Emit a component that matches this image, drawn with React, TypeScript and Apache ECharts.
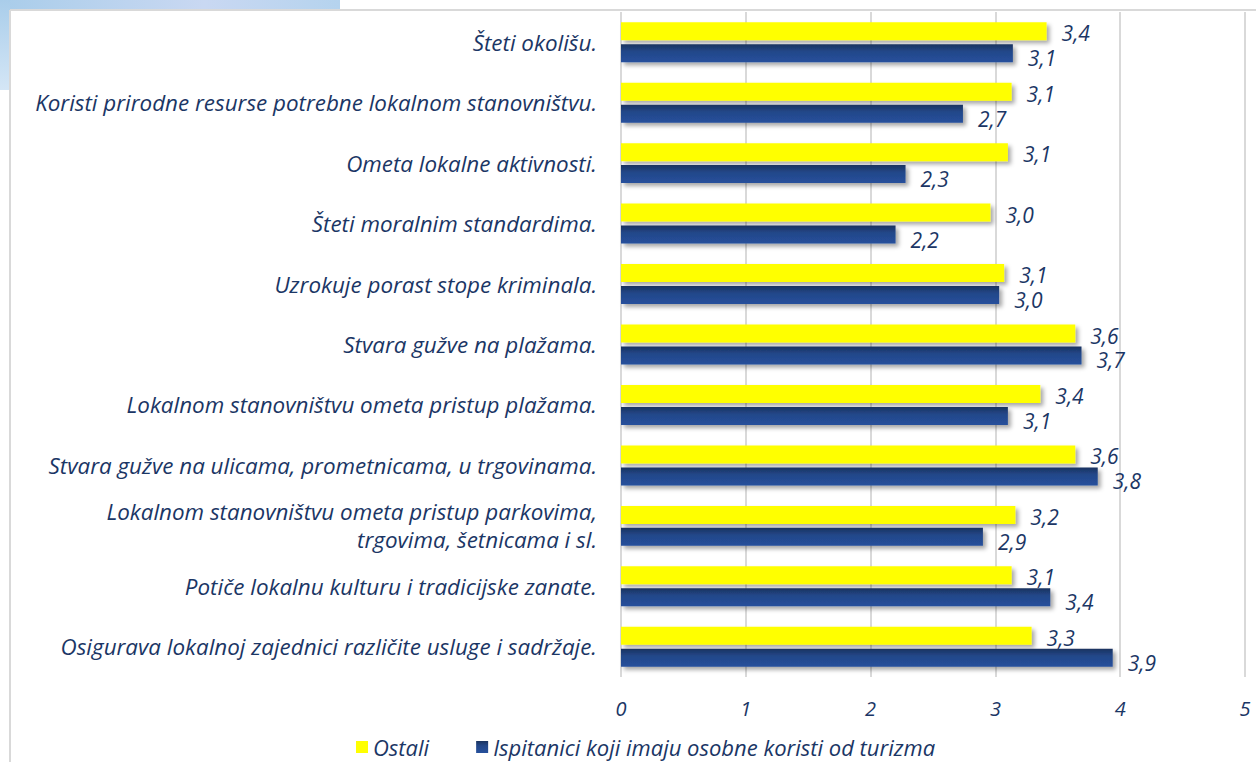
import React, { useEffect, useRef } from "react";
import * as echarts from "echarts";

const categories = [
  "Šteti okolišu.",
  "Koristi prirodne resurse potrebne lokalnom stanovništvu.",
  "Ometa lokalne aktivnosti.",
  "Šteti moralnim standardima.",
  "Uzrokuje porast stope kriminala.",
  "Stvara gužve na plažama.",
  "Lokalnom stanovništvu ometa pristup plažama.",
  "Stvara gužve na ulicama, prometnicama, u trgovinama.",
  "Lokalnom stanovništvu ometa pristup parkovima,\ntrgovima, šetnicama i sl.",
  "Potiče lokalnu kulturu i tradicijske zanate.",
  "Osigurava lokalnoj zajednici različite usluge i sadržaje.",
];

const ostali = [3.41, 3.13, 3.1, 2.96, 3.07, 3.64, 3.36, 3.64, 3.16, 3.13, 3.29];
const ispitanici = [3.14, 2.74, 2.28, 2.2, 3.03, 3.69, 3.1, 3.82, 2.9, 3.44, 3.94];

const seriesNames = ["Ostali", "Ispitanici koji imaju osobne koristi od turizma"];
const xTicks = [0, 1, 2, 3, 4, 5];

const NAVY = "#1b3665";
const FONT = "'Open Sans'";

const fmt = (v: number) => v.toFixed(1).replace(".", ",");

export default function App() {
  const ref = useRef<HTMLDivElement>(null);
  useEffect(() => {
    document.body.style.margin = "0";
    const chart = echarts.init(ref.current!, undefined, { renderer: "svg" });
    const labelStyle = {
      show: true,
      position: "right" as const,
      distance: 15,
      offset: [0, 2],
      color: NAVY,
      fontFamily: FONT,
      fontStyle: "italic" as const,
      fontSize: 21,
      lineHeight: 19,
      formatter: (p: any) => fmt(p.value),
    };
    chart.setOption({
      animation: false,
      backgroundColor: "#ffffff",
      graphic: [
        {
          type: "rect",
          shape: { x: 0, y: 0, width: 340, height: 10 },
          style: {
            fill: new echarts.graphic.LinearGradient(0, 0, 1, 0, [
              { offset: 0, color: "#a9cdea" },
              { offset: 0.6, color: "#c9d8f2" },
              { offset: 1, color: "#b5d3ee" },
            ]),
          },
          silent: true,
        },
        {
          type: "rect",
          shape: { x: 0, y: 0, width: 10, height: 90 },
          style: {
            fill: new echarts.graphic.LinearGradient(0, 0, 0, 1, [
              { offset: 0, color: "#a9cdea" },
              { offset: 1, color: "#d4e6f6" },
            ]),
          },
          silent: true,
        },
        {
          type: "line",
          shape: { x1: 10, y1: 10, x2: 1256, y2: 10 },
          style: { stroke: "#d9d9d9", lineWidth: 2 },
          silent: true,
        },
        {
          type: "line",
          shape: { x1: 10, y1: 10, x2: 10, y2: 762 },
          style: { stroke: "#d9d9d9", lineWidth: 2 },
          silent: true,
        },
      ],
      grid: { left: 621, right: 11, top: 12, bottom: 85, containLabel: false },
      legend: {
        data: seriesNames,
        left: 351,
        top: 731,
        icon: "rect",
        itemWidth: 12,
        itemHeight: 12,
        itemGap: 47,
        textStyle: {
          color: NAVY,
          fontFamily: FONT,
          fontStyle: "italic",
          fontSize: 22,
        },
      },
      xAxis: {
        type: "value",
        min: 0,
        max: 5,
        interval: 1,
        axisLine: { show: false },
        axisTick: { show: false },
        splitLine: { show: true, lineStyle: { color: "#d9d9d9", width: 2 } },
        axisLabel: {
          margin: 21,
          color: NAVY,
          fontFamily: FONT,
          fontStyle: "italic",
          fontSize: 20,
          formatter: (v: number) => (xTicks.includes(v) ? String(v) : ""),
        },
      },
      yAxis: {
        type: "category",
        data: categories,
        inverse: true,
        axisLine: { show: false },
        axisTick: { show: false },
        splitLine: { show: false },
        axisLabel: {
          margin: 24,
          color: NAVY,
          fontFamily: FONT,
          fontStyle: "italic",
          fontSize: 22.4,
          lineHeight: 28,
          align: "right",
        },
      },
      series: [
        {
          name: seriesNames[0],
          type: "bar",
          data: ostali,
          barWidth: 18,
          barGap: "22%",
          itemStyle: {
            color: "#ffff00",
            shadowColor: "rgba(0,0,0,0.35)",
            shadowBlur: 4,
            shadowOffsetX: 3,
            shadowOffsetY: 3,
          },
          label: labelStyle,
        },
        {
          name: seriesNames[1],
          type: "bar",
          data: ispitanici,
          barWidth: 18,
          barGap: "22%",
          itemStyle: {
            color: new echarts.graphic.LinearGradient(0, 0, 0, 1, [
              { offset: 0, color: "#1a335f" },
              { offset: 0.4, color: "#234789" },
              { offset: 1, color: "#26509c" },
            ]),
            shadowColor: "rgba(0,0,0,0.35)",
            shadowBlur: 4,
            shadowOffsetX: 3,
            shadowOffsetY: 3,
          },
          label: { ...labelStyle, offset: [0, 5] },
        },
      ],
    });
    return () => chart.dispose();
  }, []);
  return (
    <div
      ref={ref}
      style={{ position: "fixed", left: 0, top: 0, width: 1256, height: 762 }}
    />
  );
}
